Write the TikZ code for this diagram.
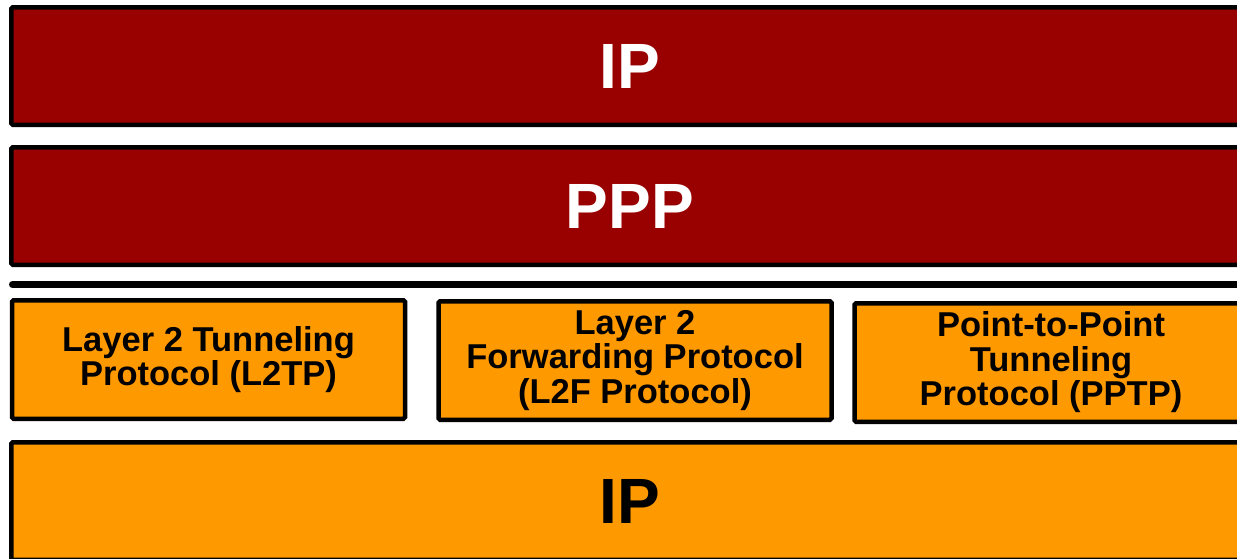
\documentclass[tikz,border=0pt]{standalone}
\usepackage{fontspec}
\setmainfont{Liberation Sans}
\definecolor{darkred}{HTML}{990000}
\definecolor{amber}{HTML}{FF9900}
\tikzset{
  layer/.style={draw=black, line width=4.5pt, rounded corners=1.5pt,
    inner sep=0pt, outer sep=0pt, align=center, font=\bfseries},
  upper/.style={layer, fill=darkred, text=white, minimum width=1237.5pt,
    minimum height=117.5pt, font=\fontsize{64}{66}\bfseries\selectfont},
  lower/.style={layer, fill=amber, text=black, minimum width=1237.5pt,
    minimum height=117.5pt, font=\fontsize{64}{66}\bfseries\selectfont},
  tunnel/.style={layer, fill=amber, text=black, minimum width=393pt,
    minimum height=118.5pt, font=\fontsize{34.5}{34.5}\bfseries\selectfont},
  divider/.style={line width=7pt, line cap=round, draw=black}
}
\begin{document}
\begin{tikzpicture}[x=1pt, y=-1pt]
  \useasboundingbox (0,0) rectangle (1237,558);
  \clip (0,0) rectangle (1237,558);
  \fill[white] (0,0) rectangle (1237,558);

  % network layer on top of the link
  \node[upper] (ip) at (630,66) {IP};
  \node[upper] (ppp) at (630,206) {PPP};

  % separator between PPP and the tunnelling protocols
  \coordinate (sepL) at (12.5,284.5);
  \coordinate (sepR) at (1270,284.5);
  \draw[divider] (sepL) -- (sepR);

  % tunnelling protocols
  \node[tunnel] (l2tp) at (208.5,359.5) {Layer 2 Tunneling\\Protocol (L2TP)};
  \node[tunnel] (l2f) at (635,360.5) {Layer 2\\Forwarding Protocol\\(L2F Protocol)};
  \node[tunnel] (pptp) at (1051,362.5) {Point-to-Point\\Tunneling\\Protocol (PPTP)};

  % carrier network
  \node[lower] (ipbase) at (630,501) {IP};
\end{tikzpicture}
\end{document}
